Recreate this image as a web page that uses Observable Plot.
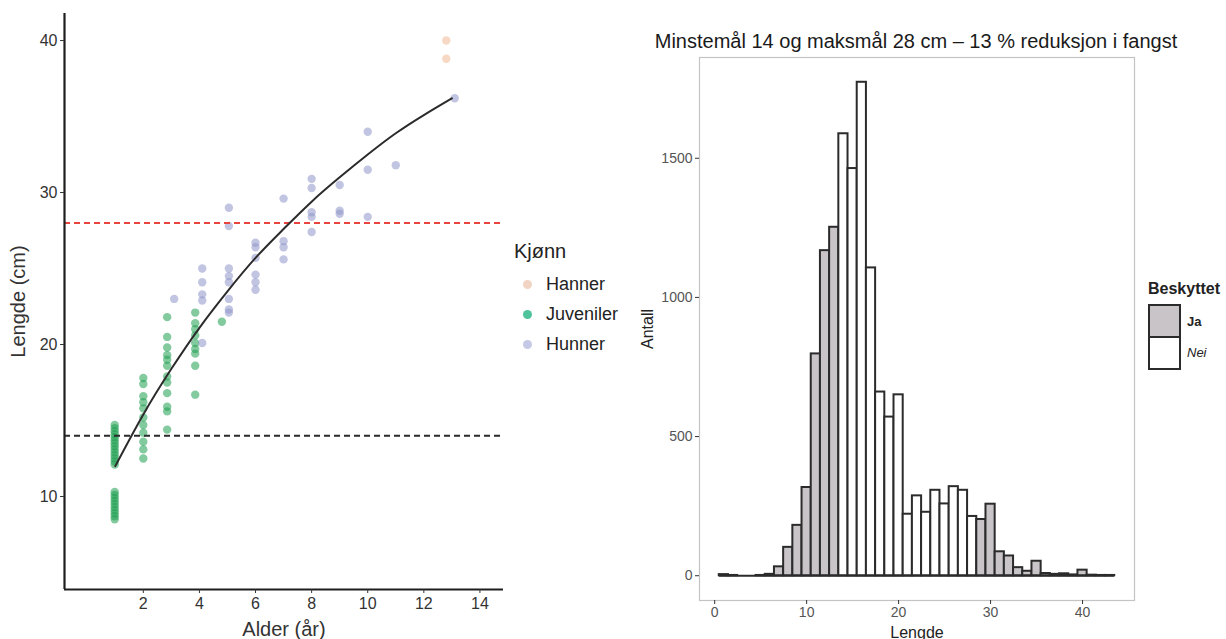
<!DOCTYPE html>
<html>
<head>
<meta charset="utf-8">
<script src="https://cdn.jsdelivr.net/npm/d3@7"></script>
<script src="https://cdn.jsdelivr.net/npm/@observablehq/plot@0.6"></script>
<style>
  html, body { margin: 0; padding: 0; background: #fff; }
  body { width: 1226px; height: 639px; position: relative; overflow: hidden;
         font-family: "Liberation Sans", Arial, Helvetica, sans-serif; color: #222; }
  .abs { position: absolute; }
  #left { left: 0; top: 0; }
  #right { left: 620px; top: 0; }
  .leg-title { font-size: 20px; color: #222; margin-bottom: 6px; }
  .leg-item { font-size: 18px; color: #222; display: flex; align-items: center; height: 30px; }
  .leg-dot { width: 9px; height: 9px; border-radius: 50%; margin-right: 14px; margin-left: 9px; }
  #title { font-size: 20px; color: #1a1a1a; white-space: nowrap; transform: translateX(-50%); }
  .box { border: 2.5px solid #2b2b2b; box-sizing: border-box; }
  .rleg-row { display: flex; align-items: center; }
  .rleg-lab { font-size: 13px; font-weight: bold; margin-left: 6px; }
</style>
</head>
<body>
<div id="left" class="abs"></div>
<div id="right" class="abs"></div>
<div id="title" class="abs" style="left:916px; top:30px;">Minstemål 14 og maksmål 28 cm – 13 % reduksjon i fangst</div>

<div class="abs" style="left:514px; top:240px;">
  <div class="leg-title">Kjønn</div>
  <div id="kjonn-items"></div>
</div>

<div class="abs" style="left:1148px; top:280px;">
  <div style="font-size:16px; font-weight:bold; color:#222; margin-bottom:6px;">Beskyttet</div>
  <div id="besk-items"></div>
</div>

<script>
// ---------- Left panel data (Alder vs Lengde) ----------
const groups = ["Hanner", "Juveniler", "Hunner"];
const groupFill = ["#f0b894", "#1f9e50", "#8e96c9"];
const legendColor = ["#f2d4c4", "#4fc39b", "#c6c9e6"];

const juvAge = [
  0.98,0.98,0.98,0.98,0.98,0.98,0.98,0.98,0.98,0.98,0.98,0.98,0.98,0.98,
  0.98,0.98,0.98,0.98,0.98,0.98,0.98,0.98,0.98,0.98,
  2,2,2,2,2,2,2,2,2,2,2,
  2.85,2.85,2.85,2.85,2.85,2.85,2.85,2.85,2.85,2.85,2.85,2.85,
  3.85,3.85,3.85,3.85,3.85,3.85,3.85,3.85,3.85,
  4.8
];
const juvLen = [
  14.7,14.5,14.3,14.1,13.9,13.7,13.5,13.3,13.1,12.9,12.7,12.5,12.3,12.1,
  10.3,10.1,9.9,9.7,9.5,9.3,9.1,8.9,8.7,8.5,
  17.8,17.4,16.6,16.2,15.8,15.2,14.7,14.2,13.6,13.1,12.5,
  21.8,20.5,19.8,19.3,19.0,18.6,17.9,17.5,16.8,15.9,15.6,14.4,
  22.1,21.4,21.0,20.6,20.1,19.7,19.4,18.6,16.7,
  21.5
];
const hunAge = [
  3.1,
  4.1,4.1,4.1,4.1,4.1,
  5.05,5.05,5.05,5.05,5.05,5.05,5.05,5.05,
  6,6,6,6,6,6,
  7,7,7,7,
  8,8,8,8,8,
  9,9,9,
  10,10,10,
  11,
  13.1
];
const hunLen = [
  23.0,
  25.0,24.1,23.3,22.9,20.1,
  29.0,27.8,25.0,24.5,24.1,23.0,22.3,22.1,
  26.7,26.4,25.7,24.6,24.1,23.6,
  29.6,26.8,26.4,25.6,
  30.9,30.3,28.7,28.4,27.4,
  30.5,28.8,28.6,
  34.0,31.5,28.4,
  31.8,
  36.2
];
const hanAge = [12.8, 12.8];
const hanLen = [40.0, 38.8];

// fitted growth curve
const curveAge = [1,2,3,4,5,6,7,8,9,10,11,12,13];
const curveLen = [12.0,15.4,18.4,21.1,23.5,25.7,27.6,29.4,31.0,32.5,33.9,35.1,36.2];

const minstemal = 14;
const maksmal = 28;
const ageTicks = [2,4,6,8,10,12,14];
const lenTicks = [10,20,30,40];
const ageDomain = [-0.81, 14.84];
const lenDomain = [3.88, 41.78];

// ---------- Right panel data (histogram) ----------
const binLen = [1,2,3,4,5,6,7,8,9,10,11,12,13,14,15,16,17,18,19,20,21,22,23,24,25,26,27,28,29,30,31,32,33,34,35,36,37,38,39,40,41,42,43];
const binCount = [4,1,0,0,1,5,32,102,181,317,797,1168,1252,1588,1463,1773,1106,660,570,650,221,287,228,307,258,320,307,213,202,257,86,71,29,16,52,8,5,7,3,20,2,1,1];
const lengdeTicks = [0,10,20,30,40];
const antallTicks = [0,500,1000,1500];
const lengdeDomain = [-1.65, 45.65];
const antallDomain = [-89, 1862];
const beskyttet = ["Ja", "Nei"];
const beskFill = ["#c8c4c8", "#ffffff"];

// ---------- build tables ----------
const points = [];
function addGroup(ages, lens, g) { ages.forEach((a, i) => points.push({age: a, len: lens[i], g})); }
addGroup(juvAge, juvLen, "Juveniler");
addGroup(hunAge, hunLen, "Hunner");
addGroup(hanAge, hanLen, "Hanner");
const curve = curveAge.map((a, i) => ({age: a, len: curveLen[i]}));
const bins = binLen.map((l, i) => ({len: l, count: binCount[i], prot: (l < minstemal || l > maksmal) ? "Ja" : "Nei"}));

const font = "'Liberation Sans', Arial, Helvetica, sans-serif";

const left = Plot.plot({
  width: 510, height: 639,
  marginLeft: 64, marginRight: 7, marginTop: 13, marginBottom: 50,
  style: {fontFamily: font, background: "transparent", color: "#333"},
  x: {domain: ageDomain},
  y: {domain: lenDomain},
  color: {domain: groups, range: groupFill},
  marks: [
    Plot.dot(points, {x: "age", y: "len", r: 4.2, fill: "g", fillOpacity: 0.55, stroke: "none"}),
    Plot.ruleY([maksmal], {stroke: "#e8453e", strokeWidth: 2, strokeDasharray: "6,4"}),
    Plot.ruleY([minstemal], {stroke: "#2a2a2a", strokeWidth: 2, strokeDasharray: "6,4"}),
    Plot.line(curve, {x: "age", y: "len", curve: "natural", stroke: "#2b2b2b", strokeWidth: 2}),
    Plot.ruleX([ageDomain[0]], {stroke: "#1e1e1e", strokeWidth: 2.2}),
    Plot.ruleY([lenDomain[0]], {stroke: "#1e1e1e", strokeWidth: 2.2}),
    Plot.axisX({ticks: ageTicks, tickSize: 4, tickPadding: 4, fontSize: 16, stroke: "#333", color: "#333",
                label: "Alder (år)", labelAnchor: "center", labelOffset: 46, labelArrow: "none"}),
    Plot.axisY({ticks: lenTicks, tickSize: 4, tickPadding: 3, fontSize: 16, stroke: "#333", color: "#333",
                label: "Lengde (cm)", labelAnchor: "center", labelOffset: 54, labelArrow: "none"})
  ]
});
left.querySelectorAll("[aria-label='x-axis label'], [aria-label='y-axis label']").forEach(n => { n.setAttribute("font-size", "20"); n.style.fontSize = "20px"; });
document.getElementById("left").appendChild(left);

const right = Plot.plot({
  width: 606, height: 639,
  marginLeft: 79, marginRight: 92, marginTop: 57, marginBottom: 39,
  style: {fontFamily: font, background: "transparent", color: "#333"},
  x: {domain: lengdeDomain},
  y: {domain: antallDomain},
  color: {domain: beskyttet, range: beskFill},
  marks: [
    Plot.frame({stroke: "#c4c4c4", strokeWidth: 1.2}),
    Plot.ruleY([0], {x1: d3.min(binLen) - 0.5, x2: d3.max(binLen) + 0.5, stroke: "#2b2b2b", strokeWidth: 2}),
    Plot.rectY(bins, {x1: d => d.len - 0.5, x2: d => d.len + 0.5, y: "count", fill: "prot", stroke: "#2b2b2b", strokeWidth: 2}),
    Plot.axisX({ticks: lengdeTicks, tickFormat: d => String(d), tickSize: 4, tickPadding: 3, fontSize: 14, stroke: "#333", color: "#555",
                label: "Lengde", labelAnchor: "center", labelOffset: 37, labelArrow: "none"}),
    Plot.axisY({ticks: antallTicks, tickFormat: d => String(d), tickSize: 4, tickPadding: 3, fontSize: 14, stroke: "#333", color: "#555",
                label: "Antall", labelAnchor: "center", labelOffset: 58, labelArrow: "none"})
  ]
});
right.querySelectorAll("[aria-label='x-axis label'], [aria-label='y-axis label']").forEach(n => { n.setAttribute("font-size", "16"); n.style.fontSize = "16px"; n.style.fill = "#222"; });
document.getElementById("right").appendChild(right);

// legends
const ki = document.getElementById("kjonn-items");
groups.forEach((g, i) => {
  const row = document.createElement("div"); row.className = "leg-item";
  row.innerHTML = `<span class="leg-dot" style="background:${legendColor[i]}"></span><span>${g}</span>`;
  ki.appendChild(row);
});
const bi = document.getElementById("besk-items");
beskyttet.forEach((b, i) => {
  const row = document.createElement("div"); row.className = "rleg-row";
  row.style.marginTop = i ? "-2.5px" : "0";
  row.innerHTML = `<div class="box" style="background:${beskFill[i]}; width:33px; height:34px;"></div><span class="rleg-lab" style="${i ? 'font-style:italic;font-weight:normal;' : ''}">${b}</span>`;
  bi.appendChild(row);
});
</script>
</body>
</html>
